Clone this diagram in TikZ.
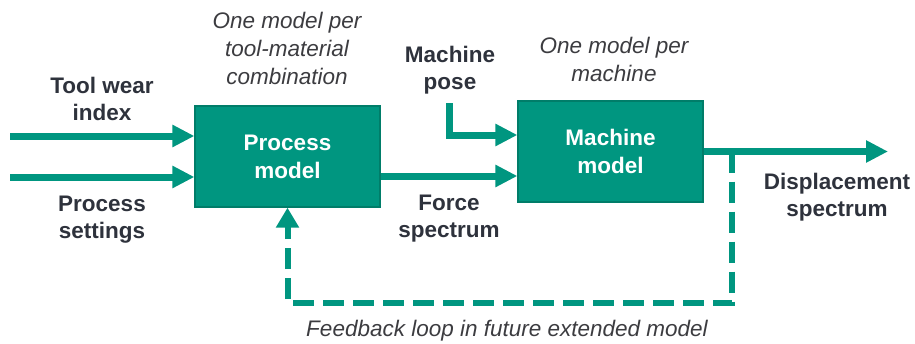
\documentclass[tikz,border=0pt]{standalone}
\usepackage{fontspec}
\setmainfont{Liberation Sans}
\usetikzlibrary{arrows.meta,calc}
\definecolor{teal1}{RGB}{0,150,128}
\definecolor{tealdark}{RGB}{0,125,105}
\definecolor{txt}{RGB}{46,50,60}
\definecolor{itx}{RGB}{60,60,64}
\begin{document}
\begin{tikzpicture}[x=1pt,y=-1pt,
  modelbox/.style={draw=tealdark,line width=1.2pt,fill=teal1,minimum width=185pt,minimum height=101pt,
    inner sep=0pt,align=center,text=white,font=\bfseries\fontsize{22.5}{28}\selectfont},
  lbl/.style={inner sep=0pt,align=center,text=txt,font=\bfseries\fontsize{22.5}{27}\selectfont},
  note/.style={inner sep=0pt,align=center,text=itx,font=\itshape\fontsize{22.5}{28}\selectfont},
  flow/.style={draw=teal1,line width=7pt,-{Triangle[length=22pt,width=21pt]}},
  fbk/.style={draw=teal1,line width=6pt,dash pattern=on 21pt off 9pt,-{Triangle[length=20pt,width=22pt]}}
]
\useasboundingbox (0,0) rectangle (915,343);
\node[modelbox] (process) at (287.5,156.5) {Process\\model};
\node[modelbox] (machine) at (610.5,151.5) {Machine\\model};
\coordinate (tw) at (10,136);
\coordinate (ps) at (10,177);
\coordinate (mp) at (449,103);
\coordinate (out) at (888,151.5);
\coordinate (fb) at (732,151.5);
\coordinate (fbc) at (732,303);
\draw[flow] (tw) -- (tw -| process.west);
\draw[flow] (ps) -- (ps -| process.west);
\draw[flow] (mp) |- ([yshift=16.5pt]machine.west);
\draw[flow] ([yshift=-19.5pt]process.east) -- ([yshift=-24.5pt]machine.west);
\draw[flow] (machine.east) -- (out);
\draw[fbk] (fb) -- (fbc) -| (process.south);
\node[lbl] (twl) at (102,99) {Tool wear\\index};
\node[lbl] (psl) at (102,220) {Process\\settings};
\node[lbl] (mpl) at (450,70) {Machine\\pose};
\node[lbl] (fsl) at (449,219) {Force\\spectrum};
\node[lbl] (dsl) at (837,197) {Displacement\\spectrum};
\node[note] (n1) at (287,48) {One model per\\tool-material\\combination};
\node[note] (n2) at (614,59) {One model per\\machine};
\node[note] (n3) at (507,331) {Feedback loop in future extended model};
\end{tikzpicture}
\end{document}
